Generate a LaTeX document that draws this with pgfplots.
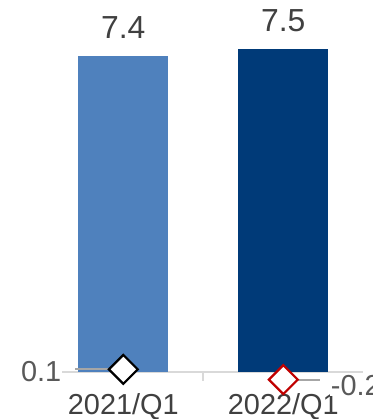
\documentclass[border=0pt]{standalone}
\usepackage{pgfplots}
\pgfplotsset{compat=1.18}
\usepackage{fontspec}
\setmainfont{Liberation Sans}
\definecolor{barA}{HTML}{4F81BD}
\definecolor{barB}{HTML}{003A78}
\definecolor{txt}{HTML}{404040}
\definecolor{lbl}{HTML}{595959}
\definecolor{axisgray}{HTML}{D9D9D9}
\definecolor{leader}{HTML}{A6A6A6}
\definecolor{dred}{HTML}{C00000}
\begin{document}
\begin{tikzpicture}
\useasboundingbox (0,0) rectangle (373bp,419bp);
\begin{axis}[
  at={(43.3bp,4.7bp)}, anchor=south west,
  scale only axis, width=320bp, height=406.6bp,
  xmin=-0.5, xmax=1.5, ymin=-1, ymax=8.5,
  axis x line=middle, axis y line=none,
  x axis line style={-, draw=axisgray, line width=2bp},
  xtick={0,1}, xticklabels={2021/Q1,2022/Q1},
  major x tick style={draw=none},
  xticklabel style={anchor=base, yshift=-38.5bp, font=\fontsize{29}{33}\selectfont, text=txt},
  ytick=\empty,
  clip=false,
  /pgf/number format/assume math mode=true,
  ybar, bar width=90bp, bar shift=0pt,
  every node near coord/.append style={anchor=base, yshift=17.6bp, font=\fontsize{32}{36}\selectfont, text=txt},
]
\addplot[fill=barA, draw=none, nodes near coords={\pgfmathprintnumber[fixed,precision=1]{\pgfplotspointmeta}}] coordinates {(0,7.36)};
\addplot[fill=barB, draw=none, nodes near coords={\pgfmathprintnumber[fixed,precision=1]{\pgfplotspointmeta}}] coordinates {(1,7.54)};
\draw[axisgray, line width=2bp] (axis cs:0.5,0) -- ([yshift=-9bp]axis cs:0.5,0);
\addplot[only marks, mark=square*, mark size=10.2bp, mark options={rotate=45, fill=white, draw=black, line width=2.2bp}] coordinates {(0,0.05)};
\addplot[only marks, mark=square*, mark size=10.2bp, mark options={rotate=45, fill=white, draw=dred, line width=2.2bp}] coordinates {(1,-0.19)};
\draw[leader, line width=2bp] (axis cs:-0.3,0.05) -- (axis cs:0,0.05);
\draw[leader, line width=2bp] (axis cs:1,-0.19) -- (axis cs:1.23,-0.19);
\node[anchor=base east, fill=white, inner sep=1bp, text=lbl, font=\fontsize{29}{33}\selectfont, yshift=-12.2bp] at (axis cs:-0.38,0.05) {0.1};
\node[anchor=base west, fill=white, inner sep=1bp, text=lbl, font=\fontsize{29}{33}\selectfont, yshift=-15.4bp] at (axis cs:1.29,-0.19) {-0.2};
\end{axis}
\end{tikzpicture}
\end{document}
